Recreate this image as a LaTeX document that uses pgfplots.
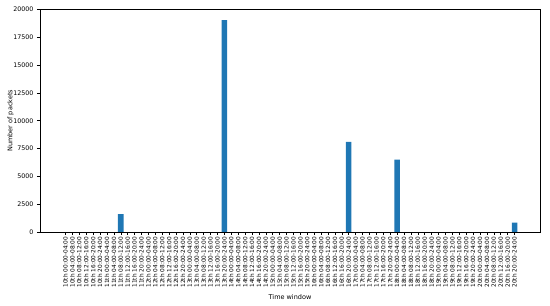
\documentclass[border=0pt]{standalone}
\usepackage{fontspec}
\setmainfont{DejaVu Sans}
\usepackage{pgfplots}
\pgfplotsset{compat=1.18}
\definecolor{tabblue}{HTML}{1F77B4}
\begin{document}
\begin{tikzpicture}
\begin{axis}[
  scale only axis, width=500pt, height=222.5pt,
  xmin=-3.69, xmax=68.69, ymin=0, ymax=20000,
  xtick={0,...,65},
  xticklabels={
    10th 00:00-04:00,10th 04:00-08:00,10th 08:00-12:00,10th 12:00-16:00,10th 16:00-20:00,10th 20:00-24:00,
    11th 00:00-04:00,11th 04:00-08:00,11th 08:00-12:00,11th 12:00-16:00,11th 16:00-20:00,11th 20:00-24:00,
    12th 00:00-04:00,12th 04:00-08:00,12th 08:00-12:00,12th 12:00-16:00,12th 16:00-20:00,12th 20:00-24:00,
    13th 00:00-04:00,13th 04:00-08:00,13th 08:00-12:00,13th 12:00-16:00,13th 16:00-20:00,13th 20:00-24:00,
    14th 00:00-04:00,14th 04:00-08:00,14th 08:00-12:00,14th 12:00-16:00,14th 16:00-20:00,14th 20:00-24:00,
    15th 00:00-04:00,15th 04:00-08:00,15th 08:00-12:00,15th 12:00-16:00,15th 16:00-20:00,15th 20:00-24:00,
    16th 00:00-04:00,16th 04:00-08:00,16th 08:00-12:00,16th 12:00-16:00,16th 16:00-20:00,16th 20:00-24:00,
    17th 00:00-04:00,17th 04:00-08:00,17th 08:00-12:00,17th 12:00-16:00,17th 16:00-20:00,17th 20:00-24:00,
    18th 00:00-04:00,18th 04:00-08:00,18th 08:00-12:00,18th 12:00-16:00,18th 16:00-20:00,18th 20:00-24:00,
    19th 00:00-04:00,19th 04:00-08:00,19th 08:00-12:00,19th 12:00-16:00,19th 16:00-20:00,19th 20:00-24:00,
    20th 00:00-04:00,20th 04:00-08:00,20th 08:00-12:00,20th 12:00-16:00,20th 16:00-20:00,20th 20:00-24:00},
  x tick label style={rotate=90, anchor=east, font=\fontsize{5.8}{6}\selectfont, inner sep=1.5pt},
  ytick={0,2500,...,20000},
  y tick label style={font=\fontsize{6.3}{7}\selectfont, /pgf/number format/.cd, 1000 sep={}, fixed},
  /pgf/number format/assume math mode=true,
  scaled y ticks=false,
  tick align=outside, tick pos=left,
  major tick length=3pt,
  tick style={black, line width=0.5pt},
  axis line style={line width=0.5pt},
  xlabel={Time window}, ylabel={Number of packets},
  label style={font=\fontsize{6.5}{7}\selectfont},
  xlabel style={at={(axis description cs:0.5,0)}, yshift=-65pt, anchor=center},
  ylabel style={at={(axis description cs:0,0.5)}, anchor=center, yshift=29.5pt},
]
\addplot[ybar, bar width=0.8, fill=tabblue, draw=none, bar shift=0pt] coordinates {
  (8,1600) (23,19050) (41,8100) (48,6500) (65,850)
};
\end{axis}
\pgfresetboundingbox
\path (current axis.south west) ++(-40pt,-74pt) coordinate (bl);
\path (current axis.north east) ++(10pt,9.5pt) coordinate (tr);
\path (bl) rectangle (tr);
\end{tikzpicture}
\end{document}
